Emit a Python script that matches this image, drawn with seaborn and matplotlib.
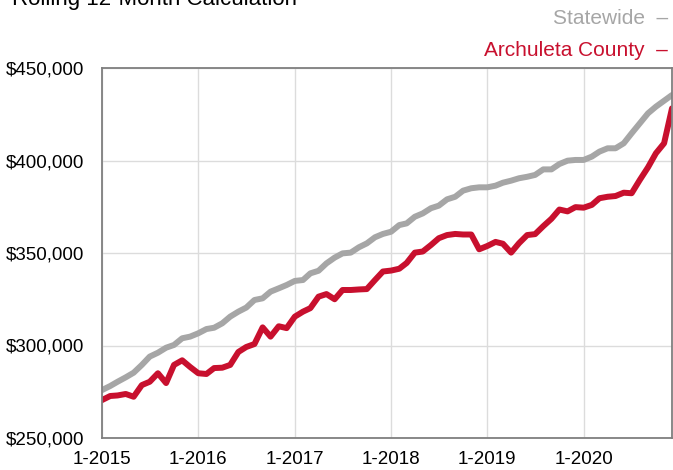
import matplotlib
matplotlib.use("Agg")
import matplotlib.pyplot as plt
import pandas as pd
import seaborn as sns

# Rolling 12-month median sales price, Jan 2015 - Dec 2020
months = pd.date_range("2015-01-01", periods=72, freq="MS")

statewide = [
    275.9, 278.1, 280.4, 282.8, 285.3, 289.5, 294.0, 296.1, 298.8, 300.3, 303.9, 304.8,
    306.6, 308.9, 309.6, 312.0, 315.6, 318.3, 320.5, 324.6, 325.5, 329.1, 330.9, 332.7,
    334.9, 335.4, 339.0, 340.4, 344.4, 347.5, 349.8, 350.2, 353.1, 355.2, 358.5, 360.3,
    361.5, 365.1, 366.0, 369.6, 371.4, 374.2, 375.6, 379.0, 380.4, 383.7, 385.0, 385.5,
    385.5, 386.4, 388.0, 389.1, 390.4, 391.2, 392.2, 395.2, 395.2, 398.1, 399.9, 400.3,
    400.3, 402.1, 404.8, 406.6, 406.6, 409.3, 414.7, 420.1, 425.5, 429.1, 432.3, 435.4,
]
archuleta = [
    270.5, 272.7, 273.0, 273.8, 272.3, 278.6, 280.4, 285.0, 279.7, 289.5, 292.0, 288.4,
    285.0, 284.6, 287.8, 288.0, 289.5, 296.5, 299.2, 300.8, 309.8, 304.8, 310.4, 309.4,
    315.6, 318.3, 320.2, 326.4, 327.8, 325.0, 330.0, 330.0, 330.3, 330.5, 335.4, 340.0,
    340.5, 341.5, 344.6, 350.2, 350.8, 354.3, 358.0, 359.7, 360.3, 360.0, 360.0, 352.0,
    353.8, 356.0, 355.0, 350.2, 355.3, 359.7, 360.2, 364.5, 368.5, 373.5, 372.5, 374.8,
    374.5, 376.0, 379.6, 380.4, 380.8, 382.6, 382.3, 389.5, 396.3, 403.9, 409.3, 428.2,
]

series_names = ["Statewide", "Archuleta County"]
series_colors = ["#a6a6a6", "#c8102e"]
y_ticks = [250000, 300000, 350000, 400000, 450000]
x_tick_years = [2015, 2016, 2017, 2018, 2019, 2020]

df = pd.concat([
    pd.DataFrame({"month": months, "price": [v * 1000 for v in statewide], "area": "Statewide"}),
    pd.DataFrame({"month": months, "price": [v * 1000 for v in archuleta], "area": "Archuleta County"}),
])

sns.set_style("white")
plt.rcParams["font.family"] = ["Liberation Sans", "DejaVu Sans"]

fig = plt.figure(figsize=(6.73, 4.70), dpi=100)
ax = fig.add_axes([102 / 673, 1 - 438 / 470, 570 / 673, 370 / 470])

sns.lineplot(data=df, x="month", y="price", hue="area", hue_order=series_names,
             palette=series_colors, linewidth=4.3, ax=ax, legend=False)

ax.set_xlim(months[0], months[-1])
ax.set_ylim(y_ticks[0], y_ticks[-1])
ax.set_yticks(y_ticks)
ax.set_yticklabels([f"${v:,.0f}" for v in y_ticks])
ax.set_xticks([pd.Timestamp(f"{y}-01-01") for y in x_tick_years])
ax.set_xticklabels([f"1-{y}" for y in x_tick_years])
ax.set_xlabel("")
ax.set_ylabel("")

ax.grid(True, color="#dcdcdc", linewidth=1.0)
ax.set_axisbelow(True)
for sp in ax.spines.values():
    sp.set_visible(True)
    sp.set_color("#7f7f7f")
    sp.set_linewidth(1.3)
ax.tick_params(axis="both", which="major", length=5, width=1.0, color="#7f7f7f",
               labelsize=13.5, labelcolor="black")
ax.tick_params(axis="y", pad=8)
ax.tick_params(axis="x", pad=4)

fig.text(12 / 673, 1 - 5 / 470, "Rolling 12-Month Calculation", fontsize=16,
         color="black", ha="left", va="baseline")
fig.text(668 / 673, 1 - 19 / 470, "Statewide  \u2013", fontsize=15,
         color=series_colors[0], ha="right", va="center")
fig.text(668 / 673, 1 - 50 / 470, "Archuleta County  \u2013", fontsize=15,
         color=series_colors[1], ha="right", va="center")

fig.savefig("out.png", dpi=100)
